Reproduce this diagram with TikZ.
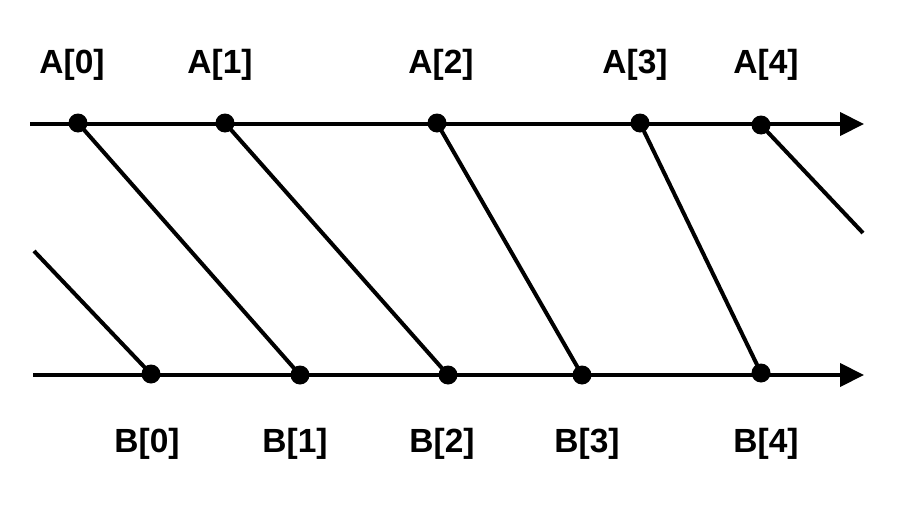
\documentclass[tikz,border=0pt]{standalone}
\usepackage{fontspec}
\setmainfont{Liberation Sans}
\usetikzlibrary{arrows.meta}

\tikzset{
  dot/.style={circle, fill=black, inner sep=0pt, minimum size=19pt},
  lbl/.style={anchor=base, inner sep=0pt, font=\fontsize{33.5}{33.5}\selectfont\bfseries},
  axis/.style={line width=4.2pt, -{Triangle[length=24pt,width=23pt]}},
  link/.style={line width=4pt}
}

\begin{document}
\begin{tikzpicture}[x=1pt, y=-1pt]
    \useasboundingbox (0,0) rectangle (898,522);
	% time axes
    \coordinate (As) at (30,124);
    \coordinate (Ae) at (864,124);
    \coordinate (Bs) at (33,375);
    \coordinate (Be) at (864,375);
    \draw[axis] (As)--(Ae);
    \draw[axis] (Bs)--(Be);
    % samples
    \node[dot] (A0) at (78,123) {};
    \node[dot] (A1) at (225,123) {};
    \node[dot] (A2) at (437,123) {};
    \node[dot] (A3) at (640,123) {};
    \node[dot] (A4) at (761,125) {};
    \node[dot] (B0) at (151,374) {};
    \node[dot] (B1) at (300,375) {};
    \node[dot] (B2) at (448,375) {};
    \node[dot] (B3) at (582,375) {};
    \node[dot] (B4) at (761,373) {};
    % links
    \coordinate (Bin) at (34,251);
    \coordinate (Aout) at (863,233);
    \draw[link] (Bin)--(B0.center);
    \draw[link] (A0.center)--(B1.center);
    \draw[link] (A1.center)--(B2.center);
    \draw[link] (A2.center)--(B3.center);
    \draw[link] (A3.center)--(B4.center);
    \draw[link] (A4.center)--(Aout);
    % labels
    \node[lbl] (LA0) at (72,73) {A[0]};
    \node[lbl] (LA1) at (220,73) {A[1]};
    \node[lbl] (LA2) at (441,73) {A[2]};
    \node[lbl] (LA3) at (635,73) {A[3]};
    \node[lbl] (LA4) at (766,73) {A[4]};
    \node[lbl] (LB0) at (147,452) {B[0]};
    \node[lbl] (LB1) at (295,452) {B[1]};
    \node[lbl] (LB2) at (442,452) {B[2]};
    \node[lbl] (LB3) at (587,452) {B[3]};
    \node[lbl] (LB4) at (766,452) {B[4]};
    \end{tikzpicture}
\end{document}
